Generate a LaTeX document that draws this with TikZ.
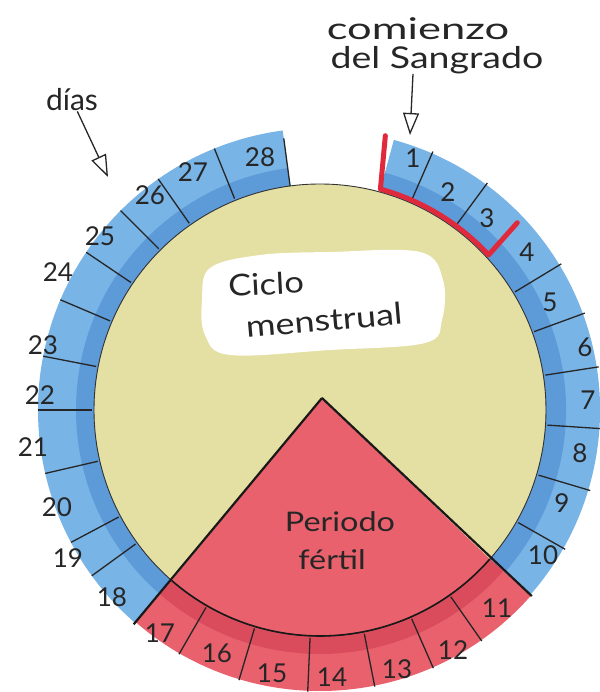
\documentclass[tikz,border=0pt]{standalone}
\usepackage{fontspec}
\setmainfont{Lato}
\usetikzlibrary{arrows.meta}
\definecolor{blueA}{HTML}{79B4E6}
\definecolor{blueB}{HTML}{5D9AD8}
\definecolor{yel}{HTML}{E4DFA2}
\definecolor{redA}{HTML}{E8616C}
\definecolor{redB}{HTML}{DA4C5C}
\definecolor{redline}{HTML}{E02A3C}
\newcommand{\ringpart}[5]{\fill[#1] (#2:#4) arc[start angle=#2, end angle=#3, radius=#4] -- (#3:#5) arc[start angle=#3, end angle=#2, radius=#5] -- cycle;}
\tikzset{
  daylbl/.style={font=\fontsize{26}{28}\selectfont, inner sep=0pt, text=black!85},
  handtext/.style={font=\fontsize{30}{32}\selectfont, inner sep=0pt, text=black!85},
  sepline/.style={line width=1.3pt, black!85},
  wedgeline/.style={line width=2.2pt, black!90},
  handarrow/.style={line width=1.3pt, black!85, -{Triangle[open, length=22pt, width=16pt, line width=1.3pt]}},
}
\begin{document}
\begin{tikzpicture}[x=1pt,y=1pt]
\useasboundingbox (-320,-282) rectangle (279,410);
% inner disk
\fill[yel] (0,0) circle[radius=226pt];
% fertile wedge
\coordinate (apex) at (2,12);
\fill[redA] (apex) -- (-131:226pt) arc[start angle=-131, end angle=-41.3, radius=226pt] -- cycle;
% ring: blue parts
\ringpart{blueA}{-41.3}{74.7}{226pt}{280pt}
\ringpart{blueA}{97.6}{229}{226pt}{282pt}
\ringpart{blueB}{-41.3}{74.7}{226pt}{246pt}
\ringpart{blueB}{97.6}{229}{226pt}{244pt}
% ring: red part
\ringpart{redA}{-131}{-41.3}{226pt}{281pt}
\ringpart{redB}{-131}{-41.3}{226pt}{244pt}
% white cloud label
\fill[white] plot[smooth cycle, tension=0.6] coordinates {(-118,110) (-110,142) (-60,155) (10,158) (100,158) (123,130) (122,90) (105,67) (10,60) (-90,55) (-115,75)};
% inner circle edge
\draw[line width=0.9pt, black!80] (0,0) circle[radius=226pt];
\draw[line width=1.6pt, black!90] (-131:226pt) arc[start angle=-131, end angle=-41.3, radius=226pt];
% day separators
\foreach \a in {66.4,53.6,31.2,20.1,8.8,-3.8,-16.6,-29.6,-55,-66.3,-78.8,-92.5,-106.7,-120,-144,-152,-167,-180,-191,-203,-214,-225,-235,-248}
  \draw[sepline] (\a:228pt) -- (\a:282pt);
\draw[sepline] (97.6:226pt) -- (97.6:274pt);
% fertile wedge edges
\draw[wedgeline] (apex) -- (-131:284pt);
\draw[wedgeline] (apex) -- (-41.3:282pt);
% bleeding bracket
\draw[redline, line width=5pt, line cap=round, line join=round] (76.6:282pt) -- (74.7:229pt) arc[start angle=74.7, end angle=42.6, radius=229pt] -- (43.5:272pt);
% day labels
\node[daylbl] (d1) at (93,252) {1};
\node[daylbl] (d2) at (128,218) {2};
\node[daylbl] (d3) at (167,192) {3};
\node[daylbl] (d4) at (207,158) {4};
\node[daylbl] (d5) at (230,108) {5};
\node[daylbl] (d6) at (265,63) {6};
\node[daylbl] (d7) at (268,10) {7};
\node[daylbl] (d8) at (260,-43) {8};
\node[daylbl] (d9) at (242,-93) {9};
\node[daylbl] (d10) at (223,-145) {10};
\node[daylbl] (d11) at (177,-198) {11};
\node[daylbl] (d12) at (133,-240) {12};
\node[daylbl] (d13) at (77,-259) {13};
\node[daylbl] (d14) at (12,-267) {14};
\node[daylbl] (d15) at (-48,-263) {15};
\node[daylbl] (d16) at (-103,-243) {16};
\node[daylbl] (d17) at (-160,-223) {17};
\node[daylbl] (d18) at (-208,-187) {18};
\node[daylbl] (d19) at (-252,-148) {19};
\node[daylbl] (d20) at (-263,-97) {20};
\node[daylbl] (d21) at (-287,-37) {21};
\node[daylbl] (d22) at (-280,15) {22};
\node[daylbl] (d23) at (-277,65) {23};
\node[daylbl] (d24) at (-262,138) {24};
\node[daylbl] (d25) at (-220,174) {25};
\node[daylbl] (d26) at (-170,215) {26};
\node[daylbl] (d27) at (-127,238) {27};
\node[daylbl] (d28) at (-60,253) {28};
% inner texts
\node[handtext, rotate=3, xscale=1.15, transform shape] (ciclo) at (-54,126) {Ciclo};
\node[handtext, rotate=5, xscale=1.2, transform shape] (menstrual) at (4,90) {menstrual};
\node[handtext, font=\fontsize{27}{29}\selectfont, xscale=1.2, transform shape] (periodo) at (20,-112) {Periodo};
\node[handtext, font=\fontsize{27}{29}\selectfont, xscale=1.2, transform shape] (fertil) at (12,-150) {fértil};
% outer annotations
\node[handtext] (dias) at (-248,310) {días};
\node[handtext, xscale=1.45, transform shape] (comienzo) at (98,381) {comienzo};
\node[handtext, xscale=1.25, transform shape] (sangrado) at (117,350) {del Sangrado};
\coordinate (diastip) at (-212,233);
\coordinate (sangtip) at (90,275);
\draw[handarrow] (dias) -- (diastip);
\draw[handarrow] (sangrado.south -| 93,0) -- (sangtip);
\end{tikzpicture}
\end{document}
